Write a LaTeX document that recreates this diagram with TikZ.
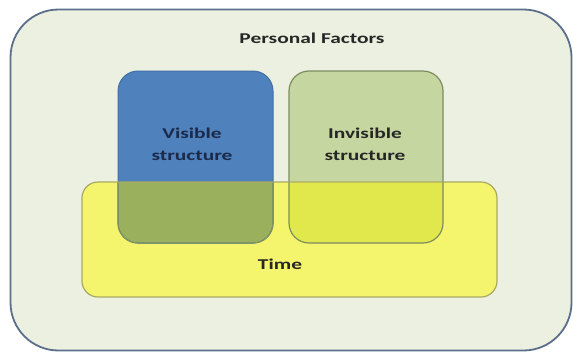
\documentclass[tikz,border=0pt]{standalone}
\usepackage{fontspec}
\setmainfont{Carlito}
\usepackage{graphicx}
\definecolor{outerfill}{HTML}{ECF0E0}
\definecolor{outerdraw}{HTML}{5B6E8A}
\definecolor{visfill}{HTML}{4F81BD}
\definecolor{visdraw}{HTML}{3F6FA8}
\definecolor{invfill}{HTML}{C6D6A0}
\definecolor{invdraw}{HTML}{7D8C5E}
\definecolor{timefill}{HTML}{F4F56C}
\definecolor{timedraw}{HTML}{A9AA62}
\definecolor{ovvis}{HTML}{9BB05C}
\definecolor{ovinv}{HTML}{E1E84C}
\definecolor{navytext}{HTML}{1B2A4A}
\definecolor{darktext}{HTML}{262626}
\newcommand{\wide}[1]{\scalebox{1.43}[1]{#1}}
\begin{document}
\begin{tikzpicture}[x=1pt,y=-1pt,
  box/.style={rectangle, inner sep=0pt, outer sep=0pt},
  lbl/.style={font=\fontsize{15}{22}\selectfont\bfseries, align=center, inner sep=0pt}]
\useasboundingbox (0,0) rectangle (573,354);
% outer frame
\node[box, draw=outerdraw, line width=1.8pt, fill=outerfill, rounded corners=48pt,
      minimum width=561pt, minimum height=341pt] (outer) at (291,180) {};
% shapes (fills)
\node[box, fill=timefill, rounded corners=16pt, minimum width=415pt, minimum height=115pt] (time) at (289.5,239.5) {};
\node[box, fill=visfill, rounded corners=20pt, minimum width=155pt, minimum height=172pt] (vis) at (195.5,157) {};
\node[box, fill=invfill, rounded corners=20pt, minimum width=154pt, minimum height=172pt] (inv) at (366,157) {};
% overlaps
\begin{scope}
  \clip[rounded corners=16pt] (time.north west) rectangle (time.south east);
  \fill[ovvis, rounded corners=20pt] (vis.north west) rectangle (vis.south east);
  \fill[ovinv, rounded corners=20pt] (inv.north west) rectangle (inv.south east);
\end{scope}
% borders
\draw[visdraw, line width=1pt, rounded corners=20pt] (vis.north west) rectangle (vis.south east);
\begin{scope}
  \clip[rounded corners=16pt] (time.north west) rectangle (time.south east);
  \draw[invdraw!80!ovvis, line width=1.2pt, rounded corners=20pt] (vis.north west) rectangle (vis.south east);
\end{scope}
\draw[invdraw, line width=1.2pt, rounded corners=20pt] (inv.north west) rectangle (inv.south east);
\draw[timedraw, line width=1.2pt, rounded corners=16pt] (time.north west) rectangle (time.south east);
% labels
\node[lbl, text=darktext] (pf) at (312,38) {\wide{Personal Factors}};
\node[lbl, text=navytext] (vislbl) at (192,144) {\wide{Visible}\\\wide{structure}};
\node[lbl, text=darktext] (invlbl) at (365,144) {\wide{Invisible}\\\wide{structure}};
\node[lbl, text=darktext] (timelbl) at (280,264) {\wide{Time}};
\end{tikzpicture}
\end{document}
